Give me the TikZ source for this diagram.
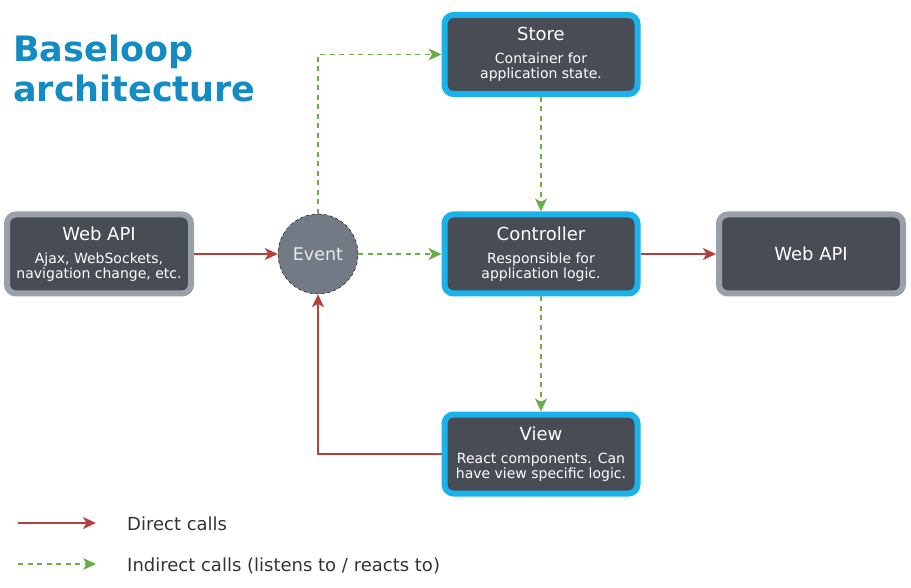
\documentclass[tikz,border=0pt]{standalone}
\usepackage{fontspec}
\setmainfont{DejaVu Sans}
\usetikzlibrary{arrows.meta}
\definecolor{boxfill}{HTML}{484C54}
\definecolor{cyanline}{HTML}{1AB2EA}
\definecolor{grayline}{HTML}{98A0AA}
\definecolor{eventfill}{HTML}{737A86}
\definecolor{directred}{HTML}{B5413C}
\definecolor{indirectgreen}{HTML}{6AAE47}
\definecolor{titleblue}{HTML}{138BC3}
\definecolor{legendtext}{HTML}{333333}
\newcommand{\boxtext}[2]{{\fontsize{18}{18}\selectfont #1}\\[8.5pt]#2}

\begin{document}
\begin{tikzpicture}[x=1pt, y=-1pt,
    >={Stealth[length=13pt, width=12pt, inset=3.5pt]},
    block/.style={draw=cyanline, line width=6pt, fill=boxfill, rounded corners=9pt,
        minimum width=193pt, minimum height=79pt, text=white, align=center,
        font=\fontsize{14}{15}\selectfont, inner sep=0pt},
    apibox/.style={block, draw=grayline, minimum width=184pt},
    direct/.style={->, draw=directred, line width=1.6pt},
    indirect/.style={->, draw=indirectgreen, line width=1.6pt, dash pattern=on 5pt off 4.5pt}]
    \useasboundingbox (0,0) rectangle (911,588);

    % Title
    \node[anchor=north west, inner sep=0pt, align=left, text=titleblue,
        font=\fontsize{35}{40}\selectfont\bfseries] (title) at (13,35) {Baseloop\\architecture};

    % Boxes
    \node[block] (store) at (541,54.5) {\boxtext{Store}{Container for\\application state.}};
    \node[block] (controller) at (541,254) {\boxtext{Controller}{Responsible for\\application logic.}};
    \node[block] (view) at (541,454) {\boxtext{View}{React components. Can\\have view specific logic.}};
    \node[apibox] (webapiin) at (99,254) {\boxtext{Web API}{Ajax, WebSockets,\\navigation change, etc.}};
    \node[apibox, font=\fontsize{18}{18}\selectfont] (webapiout) at (811,254) {Web API};
    \node[circle, draw=black, dashed, fill=eventfill, minimum size=80pt, inner sep=0pt,
        text=white!92!black, font=\fontsize{17.5}{18}\selectfont] (event) at (318,254) {Event};

    % Direct calls
    \draw[direct] (webapiin) -- (event);
    \draw[direct] (controller) -- (webapiout);
    \draw[direct] (view.west) -| (event.south);

    % Indirect calls
    \draw[indirect] (event.north) |- (store.west);
    \draw[indirect] (event) -- (controller);
    \draw[indirect] (store) -- (controller);
    \draw[indirect] (controller) -- (view);

    % Legend
    \coordinate (directfrom) at (18,523);
    \coordinate (directto) at (96,523);
    \coordinate (indirectfrom) at (18,564);
    \coordinate (indirectto) at (96,564);
    \draw[direct] (directfrom) -- (directto);
    \draw[indirect] (indirectfrom) -- (indirectto);
    \node[anchor=base west, inner sep=0pt, text=legendtext, font=\fontsize{18}{18}\selectfont]
        (directlabel) at (127,530) {Direct calls};
    \node[anchor=base west, inner sep=0pt, text=legendtext, font=\fontsize{18}{18}\selectfont]
        (indirectlabel) at (127,571) {Indirect calls (listens to / reacts to)};
\end{tikzpicture}
\end{document}
